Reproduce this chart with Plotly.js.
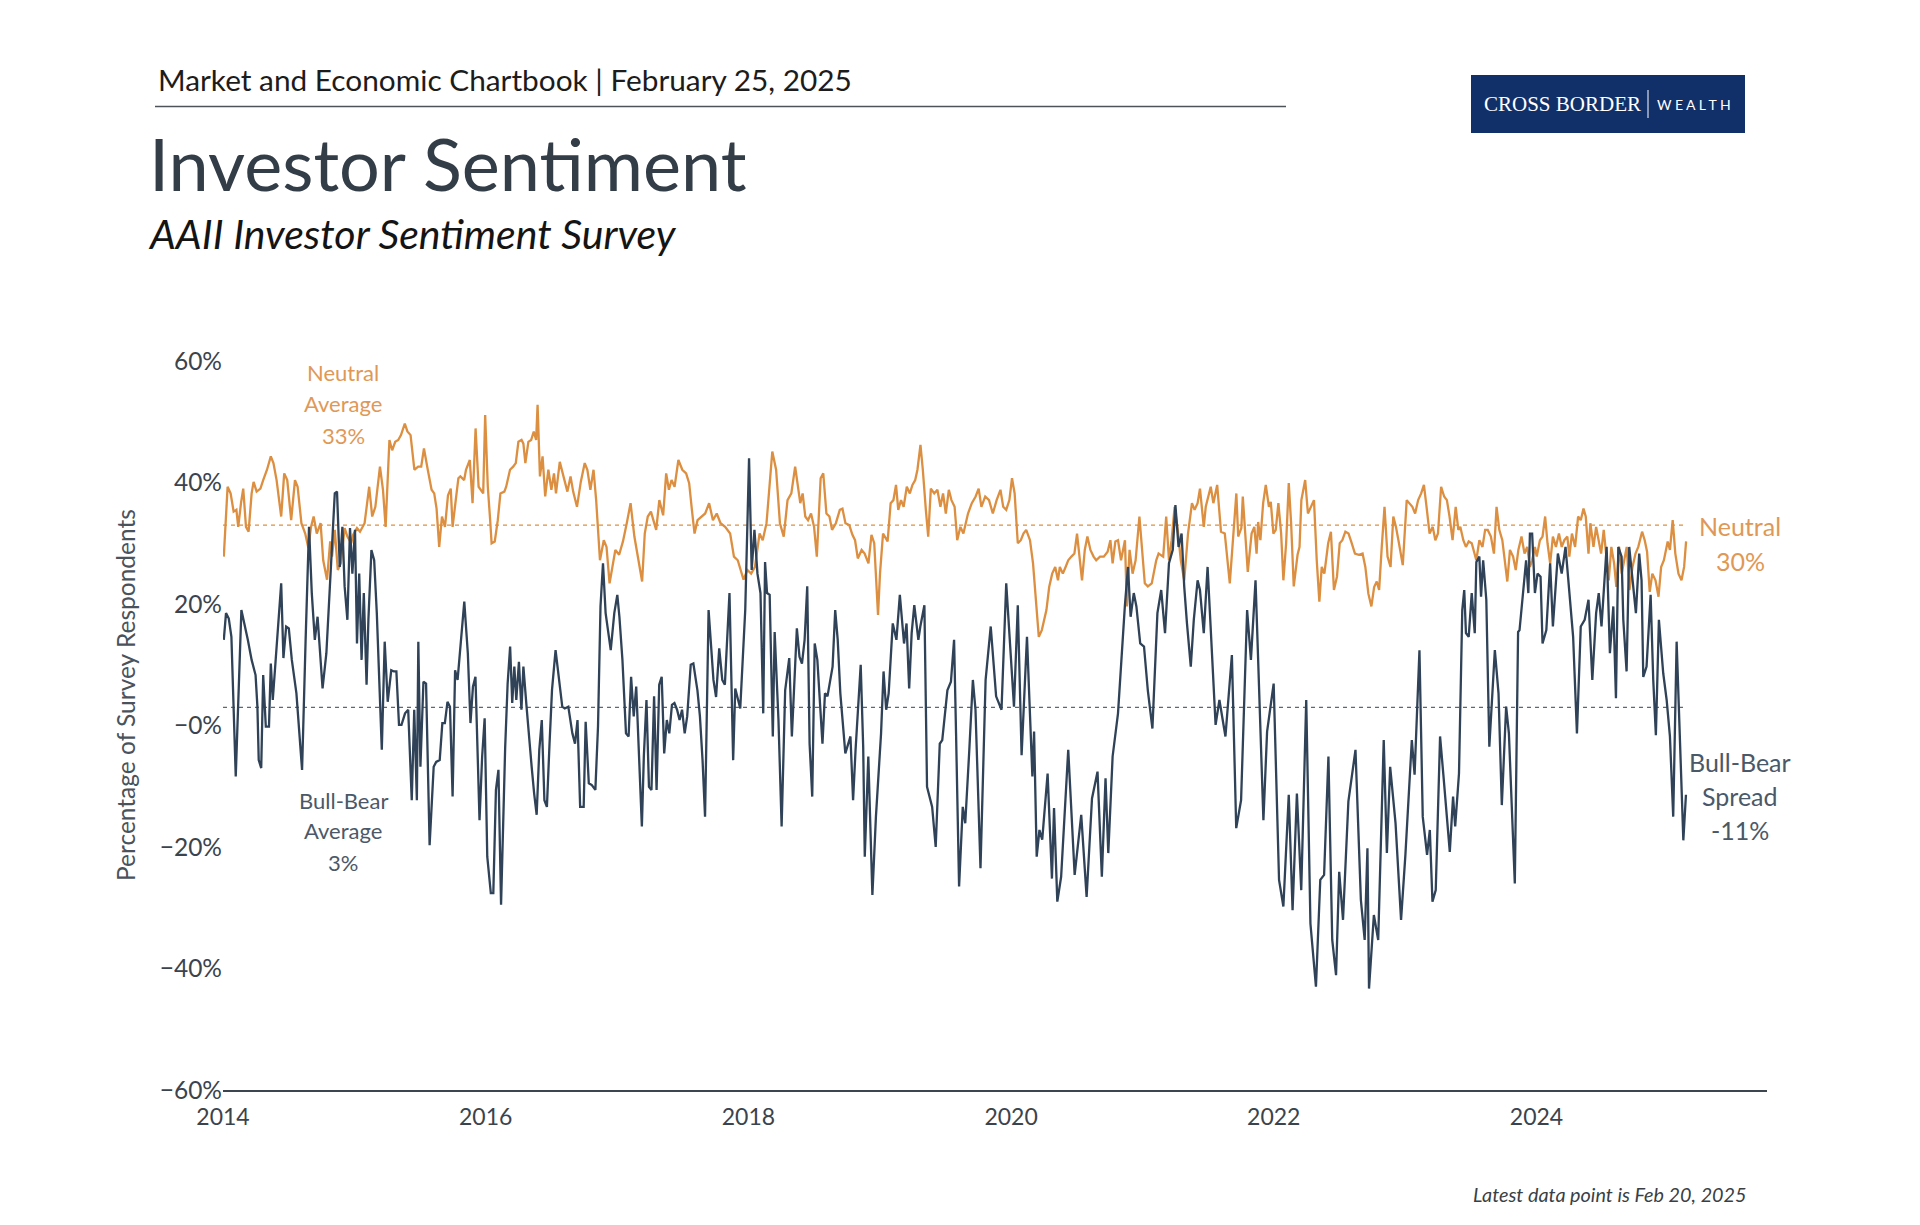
<!DOCTYPE html>
<html>
<head>
<meta charset="utf-8">
<script src="https://cdn.plot.ly/plotly-3.0.1.min.js"></script>
<style>
  html, body { margin: 0; padding: 0; background: #ffffff; }
  #chart { width: 1920px; height: 1225px; }
</style>
</head>
<body>
<div id="chart"></div>
<script>
// ---------------- DATA ----------------
const yearTicks = [2014, 2016, 2018, 2020, 2022, 2024];
const yearLabels = ["2014", "2016", "2018", "2020", "2022", "2024"];
const pctTicks = [60, 40, 20, 0, -20, -40, -60];
const pctLabels = ["60%", "40%", "20%", "\u22120%", "\u221220%", "\u221240%", "\u221260%"];

const neutralAverage = 33;
const spreadAverage = 3;
const latestNeutral = 30;
const latestSpread = -11;
const averageSpan = [2014.0, 2025.14];

// AAII neutral share (%), by decimal year
const neutralYears = [
2014.006,2014.035,2014.058,2014.081,2014.102,2014.116,2014.137,2014.154,2014.175,2014.195,
2014.218,2014.233,2014.256,2014.285,2014.306,2014.335,2014.364,2014.384,2014.408,2014.443,
2014.466,2014.489,2014.519,2014.548,2014.568,2014.597,2014.626,2014.650,2014.670,2014.690,
2014.714,2014.743,2014.763,2014.792,2014.816,2014.830,2014.851,2014.874,2014.897,2014.926,
2014.947,2014.976,2014.991,2015.020,2015.043,2015.078,2015.113,2015.136,2015.160,2015.180,
2015.195,2015.218,2015.238,2015.267,2015.288,2015.311,2015.334,2015.355,2015.384,2015.404,
2015.428,2015.457,2015.486,2015.509,2015.530,2015.559,2015.588,2015.608,2015.626,2015.646,
2015.667,2015.690,2015.713,2015.734,2015.748,2015.772,2015.792,2015.807,2015.836,2015.850,
2015.879,2015.900,2015.923,2015.946,2015.981,2015.996,2016.016,2016.034,2016.045,2016.069,
2016.092,2016.112,2016.142,2016.156,2016.185,2016.209,2016.229,2016.249,2016.273,2016.287,
2016.302,2016.325,2016.346,2016.366,2016.384,2016.395,2016.413,2016.433,2016.453,2016.477,
2016.500,2016.520,2016.535,2016.564,2016.593,2016.622,2016.646,2016.666,2016.695,2016.724,
2016.754,2016.774,2016.797,2016.821,2016.841,2016.870,2016.899,2016.920,2016.943,2016.966,
2016.987,2017.016,2017.045,2017.074,2017.103,2017.132,2017.161,2017.191,2017.211,2017.234,
2017.258,2017.298,2017.322,2017.351,2017.374,2017.395,2017.415,2017.438,2017.467,2017.497,
2017.526,2017.549,2017.570,2017.590,2017.613,2017.642,2017.671,2017.701,2017.730,2017.759,
2017.788,2017.823,2017.861,2017.890,2017.919,2017.963,2017.992,2018.021,2018.050,2018.085,
2018.109,2018.138,2018.182,2018.211,2018.240,2018.269,2018.298,2018.327,2018.356,2018.395,
2018.413,2018.433,2018.454,2018.477,2018.500,2018.521,2018.550,2018.570,2018.594,2018.617,
2018.637,2018.666,2018.696,2018.716,2018.739,2018.768,2018.792,2018.812,2018.833,2018.862,
2018.885,2018.914,2018.937,2018.958,2018.987,2019.002,2019.025,2019.060,2019.083,2019.104,
2019.124,2019.141,2019.162,2019.182,2019.206,2019.229,2019.249,2019.270,2019.287,2019.310,
2019.328,2019.351,2019.369,2019.389,2019.415,2019.439,2019.462,2019.482,2019.503,2019.526,
2019.546,2019.570,2019.590,2019.614,2019.637,2019.672,2019.701,2019.730,2019.753,2019.774,
2019.803,2019.832,2019.861,2019.890,2019.919,2019.940,2019.963,2019.987,2020.007,2020.027,
2020.051,2020.074,2020.094,2020.115,2020.144,2020.167,2020.190,2020.211,2020.234,2020.255,
2020.269,2020.290,2020.313,2020.336,2020.357,2020.371,2020.394,2020.415,2020.435,2020.459,
2020.482,2020.502,2020.523,2020.540,2020.561,2020.581,2020.604,2020.628,2020.648,2020.677,
2020.706,2020.735,2020.756,2020.773,2020.794,2020.814,2020.837,2020.867,2020.881,2020.902,
2020.925,2020.948,2020.977,2020.998,2021.018,2021.041,2021.071,2021.105,2021.123,2021.158,
2021.181,2021.202,2021.222,2021.245,2021.269,2021.292,2021.318,2021.347,2021.377,2021.397,
2021.420,2021.438,2021.467,2021.482,2021.502,2021.520,2021.540,2021.569,2021.598,2021.627,
2021.665,2021.694,2021.715,2021.729,2021.753,2021.764,2021.782,2021.802,2021.831,2021.852,
2021.869,2021.881,2021.898,2021.919,2021.939,2021.963,2021.977,2021.997,2022.015,2022.035,
2022.056,2022.073,2022.094,2022.114,2022.132,2022.152,2022.181,2022.196,2022.210,2022.239,
2022.260,2022.283,2022.306,2022.327,2022.347,2022.365,2022.385,2022.414,2022.435,2022.458,
2022.481,2022.502,2022.522,2022.545,2022.569,2022.589,2022.618,2022.647,2022.676,2022.697,
2022.720,2022.743,2022.764,2022.784,2022.802,2022.822,2022.843,2022.866,2022.889,2022.910,
2022.930,2022.953,2022.982,2023.012,2023.035,2023.055,2023.076,2023.099,2023.122,2023.143,
2023.163,2023.186,2023.210,2023.230,2023.250,2023.274,2023.297,2023.318,2023.338,2023.361,
2023.385,2023.405,2023.420,2023.443,2023.463,2023.484,2023.507,2023.530,2023.542,2023.565,
2023.589,2023.609,2023.629,2023.653,2023.676,2023.696,2023.717,2023.740,2023.763,2023.778,
2023.798,2023.822,2023.842,2023.862,2023.886,2023.909,2023.929,2023.950,2023.967,2023.988,
2024.002,2024.026,2024.046,2024.066,2024.084,2024.104,2024.125,2024.148,2024.171,2024.192,
2024.212,2024.235,2024.250,2024.270,2024.294,2024.317,2024.337,2024.358,2024.375,2024.396,
2024.410,2024.434,2024.454,2024.474,2024.492,2024.512,2024.533,2024.550,2024.570,2024.591,
2024.608,2024.629,2024.649,2024.667,2024.687,2024.708,2024.731,2024.754,2024.775,2024.804,
2024.824,2024.842,2024.862,2024.882,2024.906,2024.929,2024.949,2024.970,2024.999,2025.016,
2025.037,2025.057,2025.081,2025.104,2025.124,2025.139
];
const neutralValues = [
27.8,39.3,38.2,35.2,35.5,32.7,36.6,39.0,32.7,31.9,
38.2,40.1,38.5,39.0,40.4,42.1,44.3,43.2,40.4,34.4,
41.5,40.4,33.8,40.4,39.3,33.3,31.6,29.2,32.7,34.4,
31.6,33.3,27.2,24.0,30.3,27.8,32.2,25.6,26.7,32.5,
31.1,30.0,31.4,32.5,31.9,33.3,39.3,34.4,36.0,39.3,
42.6,38.8,32.7,47.0,45.3,46.7,47.0,47.8,49.7,48.4,
47.8,42.1,42.6,42.6,45.6,42.1,38.8,38.2,35.7,29.4,
34.4,32.7,37.9,39.0,32.7,37.1,40.7,41.0,40.4,42.1,
43.7,36.6,48.9,39.3,38.2,51.1,39.3,33.8,30.0,30.3,
33.8,38.2,38.5,39.3,42.1,42.6,43.2,46.7,47.0,46.4,
43.2,46.7,47.0,48.4,47.0,52.8,41.0,44.3,37.7,42.1,
38.8,41.5,38.2,43.4,41.0,38.5,41.0,38.5,36.0,40.1,
43.2,42.1,38.8,42.1,37.1,27.2,30.5,29.4,23.4,26.7,
28.9,28.1,30.3,33.3,36.6,31.1,27.2,23.7,31.6,34.4,
35.2,32.2,37.1,34.6,41.5,38.8,40.4,39.3,43.7,42.1,
41.5,39.9,35.5,31.6,33.8,34.4,34.9,36.6,33.8,34.9,
33.3,32.7,31.6,27.8,27.2,24.0,25.6,25.0,26.1,31.6,
30.5,33.3,45.1,42.1,33.3,31.1,37.1,38.2,42.6,36.6,
38.2,34.4,33.8,34.9,32.7,27.8,40.7,41.5,34.9,34.4,
32.2,33.3,35.5,35.7,33.3,33.0,31.4,30.5,27.5,28.9,
28.3,26.7,31.4,30.0,18.2,25.0,31.6,30.3,36.6,37.1,
39.6,35.5,37.1,36.0,39.3,38.2,39.6,40.4,42.1,46.2,
42.1,35.5,31.1,39.0,38.2,38.8,36.0,38.2,34.9,38.8,
37.1,36.0,30.5,32.7,31.6,34.9,36.6,37.7,39.0,36.0,
37.7,37.1,34.9,37.1,38.8,36.0,35.5,37.1,40.7,38.2,
30.0,30.5,31.6,32.2,30.5,26.7,20.7,14.6,15.7,17.4,
19.0,22.8,25.0,26.1,23.9,26.1,25.0,26.1,27.2,27.8,
28.3,31.6,27.2,23.9,28.9,31.1,28.9,27.8,27.2,27.8,
27.8,28.6,30.5,26.7,30.3,30.5,27.2,30.5,19.6,28.9,
25.0,27.2,34.4,28.3,23.4,22.9,23.4,27.2,28.3,27.8,
34.4,27.2,30.5,36.0,32.2,27.2,23.9,31.6,36.6,35.5,
36.6,39.0,32.7,36.0,37.7,39.3,36.6,39.6,31.9,31.6,
23.4,32.7,38.2,31.1,32.5,37.7,31.1,25.3,31.6,32.7,
28.3,33.5,30.5,36.6,39.6,36.0,36.8,31.6,32.2,36.6,
31.6,23.9,30.0,39.9,33.3,22.9,28.1,29.4,37.1,40.4,
34.9,36.0,37.1,27.2,20.4,26.1,25.0,30.0,31.9,22.3,
24.5,30.0,30.5,31.9,31.6,30.3,28.3,28.1,28.3,26.1,
21.7,19.6,22.8,23.7,22.3,29.4,36.0,27.8,26.1,34.4,
32.7,30.0,26.4,37.1,36.6,36.0,34.9,37.1,38.2,39.6,
36.0,31.6,32.7,30.5,31.6,39.3,37.7,37.1,34.4,30.5,
36.0,32.2,32.7,30.5,29.4,30.3,30.0,27.8,27.2,30.5,
29.4,32.2,32.2,31.1,28.3,36.0,32.2,30.5,26.1,23.7,
28.9,27.8,25.6,28.9,31.1,28.3,29.4,26.1,27.2,29.4,
27.8,30.5,31.1,34.4,30.0,26.7,31.1,29.4,31.6,29.4,
30.5,31.1,27.8,31.6,29.4,34.4,33.8,35.7,34.4,28.3,
33.3,29.4,32.7,30.5,28.3,32.2,27.2,23.9,29.4,26.7,
22.8,29.4,25.0,27.2,29.4,22.3,26.1,28.3,29.4,31.9,
30.5,28.6,22.0,25.0,23.9,21.2,26.1,27.2,30.3,28.9,
33.8,28.3,25.0,23.9,26.1,30.3
];

// Bull-bear spread (bullish minus bearish, %), by decimal year
const spreadYears = [
2014.006,2014.023,2014.044,2014.064,2014.097,2014.140,2014.189,2014.218,2014.248,2014.262,
2014.272,2014.291,2014.306,2014.326,2014.350,2014.364,2014.379,2014.408,2014.443,2014.460,
2014.481,2014.501,2014.524,2014.559,2014.582,2014.602,2014.629,2014.655,2014.676,2014.699,
2014.720,2014.737,2014.758,2014.787,2014.830,2014.851,2014.868,2014.889,2014.909,2014.926,
2014.947,2014.967,2014.985,2015.005,2015.020,2015.037,2015.055,2015.072,2015.093,2015.107,
2015.130,2015.151,2015.171,2015.195,2015.209,2015.231,2015.254,2015.281,2015.301,2015.320,
2015.340,2015.359,2015.386,2015.410,2015.437,2015.456,2015.476,2015.487,2015.503,2015.526,
2015.546,2015.573,2015.604,2015.623,2015.650,2015.670,2015.689,2015.709,2015.728,2015.748,
2015.767,2015.786,2015.814,2015.837,2015.864,2015.884,2015.903,2015.922,2015.953,2015.973,
2015.992,2016.012,2016.039,2016.058,2016.078,2016.097,2016.117,2016.148,2016.167,2016.186,
2016.202,2016.218,2016.233,2016.253,2016.272,2016.287,2016.311,2016.330,2016.350,2016.369,
2016.388,2016.408,2016.427,2016.447,2016.466,2016.486,2016.505,2016.532,2016.555,2016.583,
2016.602,2016.629,2016.660,2016.680,2016.699,2016.719,2016.746,2016.761,2016.785,2016.808,
2016.835,2016.855,2016.874,2016.893,2016.913,2016.932,2016.952,2016.979,2017.002,2017.018,
2017.041,2017.068,2017.088,2017.107,2017.127,2017.146,2017.165,2017.189,2017.204,2017.224,
2017.243,2017.262,2017.282,2017.301,2017.321,2017.340,2017.359,2017.379,2017.398,2017.418,
2017.437,2017.457,2017.476,2017.495,2017.515,2017.534,2017.561,2017.581,2017.612,2017.631,
2017.651,2017.670,2017.697,2017.734,2017.754,2017.778,2017.801,2017.821,2017.856,2017.884,
2017.900,2017.938,2017.976,2018.005,2018.025,2018.046,2018.069,2018.092,2018.113,2018.127,
2018.142,2018.162,2018.186,2018.200,2018.229,2018.253,2018.280,2018.311,2018.331,2018.350,
2018.369,2018.389,2018.408,2018.428,2018.448,2018.466,2018.486,2018.505,2018.525,2018.564,
2018.583,2018.602,2018.641,2018.661,2018.680,2018.700,2018.719,2018.738,2018.777,2018.797,
2018.816,2018.835,2018.855,2018.874,2018.886,2018.913,2018.944,2018.971,2019.010,2019.029,
2019.049,2019.068,2019.099,2019.127,2019.153,2019.185,2019.204,2019.224,2019.243,2019.263,
2019.294,2019.309,2019.340,2019.360,2019.399,2019.426,2019.457,2019.476,2019.496,2019.515,
2019.542,2019.566,2019.581,2019.604,2019.632,2019.651,2019.682,2019.709,2019.729,2019.767,
2019.806,2019.845,2019.886,2019.927,2019.963,2020.022,2020.051,2020.080,2020.121,2020.162,
2020.175,2020.195,2020.216,2020.237,2020.278,2020.311,2020.327,2020.352,2020.381,2020.435,
2020.484,2020.534,2020.575,2020.616,2020.658,2020.691,2020.719,2020.740,2020.773,2020.814,
2020.866,2020.890,2020.910,2020.934,2020.954,2020.983,2021.012,2021.041,2021.076,2021.114,
2021.143,2021.172,2021.202,2021.231,2021.251,2021.275,2021.298,2021.318,2021.339,2021.368,
2021.391,2021.420,2021.438,2021.467,2021.496,2021.525,2021.557,2021.586,2021.632,2021.681,
2021.714,2021.751,2021.797,2021.826,2021.861,2021.921,2021.949,2021.999,2022.040,2022.073,
2022.114,2022.143,2022.176,2022.209,2022.247,2022.279,2022.321,2022.354,2022.383,2022.416,
2022.445,2022.474,2022.498,2022.527,2022.568,2022.622,2022.663,2022.692,2022.713,2022.725,
2022.762,2022.795,2022.837,2022.861,2022.886,2022.927,2022.969,2023.002,2023.051,2023.072,
2023.109,2023.134,2023.167,2023.188,2023.208,2023.233,2023.266,2023.291,2023.340,2023.365,
2023.381,2023.410,2023.435,2023.450,2023.463,2023.484,2023.507,2023.530,2023.542,2023.565,
2023.578,2023.594,2023.618,2023.641,2023.683,2023.711,2023.736,2023.769,2023.790,2023.835,
2023.860,2023.871,2023.900,2023.921,2023.938,2023.950,2023.967,2023.988,2024.008,2024.031,
2024.046,2024.075,2024.104,2024.125,2024.163,2024.192,2024.221,2024.250,2024.279,2024.308,
2024.337,2024.367,2024.396,2024.425,2024.454,2024.474,2024.495,2024.534,2024.559,2024.585,
2024.605,2024.623,2024.648,2024.661,2024.686,2024.706,2024.724,2024.737,2024.757,2024.782,
2024.800,2024.813,2024.838,2024.869,2024.889,2024.909,2024.932,2024.965,2024.991,2025.016,
2025.041,2025.067,2025.092,2025.118,2025.138
];
const spreadValues = [
14.1,18.5,17.6,14.6,-8.4,19.0,14.1,10.8,8.3,3.1,
-5.7,-7.0,8.3,-0.2,-0.2,10.2,4.2,13.0,23.4,11.1,
16.3,16.0,10.8,5.3,-0.7,-7.3,14.1,32.7,21.8,14.1,
17.9,11.9,6.1,11.9,28.9,38.2,38.5,26.1,32.7,22.9,
17.4,32.5,25.0,32.2,13.5,25.0,10.8,21.8,6.7,17.4,
28.9,27.2,18.5,2.0,-4.0,13.8,3.9,9.1,8.9,8.9,
0.1,0.1,2.0,2.6,-12.3,2.6,-12.3,13.8,-6.8,7.2,
6.9,-19.7,-6.8,-6.0,-5.7,0.4,0.4,3.9,3.1,-11.7,
9.1,7.5,15.2,20.4,11.9,0.4,6.4,8.0,-15.6,-5.1,
1.2,-21.6,-27.6,-27.6,-10.6,-7.3,-29.5,-3.8,6.9,13.0,
3.7,9.7,4.2,10.5,2.6,9.7,3.1,-2.1,-6.8,-11.2,
-14.7,-4.0,0.9,-12.3,-13.4,-3.0,5.9,12.4,8.6,3.1,
2.8,3.1,-1.3,-3.0,0.9,-13.4,-13.4,0.6,-9.5,-9.8,
-10.6,-0.2,19.6,26.7,18.5,15.4,12.4,18.5,21.5,17.9,
10.8,-1.3,-1.8,8.0,1.5,6.4,-5.1,-16.6,-5.1,4.2,
-10.1,-10.6,4.8,-10.6,6.7,8.0,-4.6,0.9,-1.3,3.4,
3.7,2.6,0.9,2.6,-1.3,1.5,10.0,10.2,5.8,1.5,
-5.7,-15.0,19.0,7.5,4.7,12.7,7.5,6.7,21.8,-5.7,
6.1,2.8,19.0,44.0,25.6,32.2,25.0,21.8,2.0,26.9,
21.8,21.5,-1.8,15.4,0.9,-16.6,5.8,11.1,-1.8,8.0,
16.0,11.3,10.2,14.1,22.9,-3.0,-11.7,13.5,10.8,-3.0,
5.3,4.8,9.7,19.0,14.1,5.3,-0.2,-4.6,-1.8,-12.3,
-4.0,3.7,10.0,-3.5,-21.6,-5.1,-27.9,-15.0,-1.3,8.9,
2.6,5.3,16.8,14.1,21.5,13.5,16.8,6.1,15.2,19.8,
14.1,16.3,19.8,-10.1,-13.4,-20.0,-3.0,-2.4,1.5,5.8,
7.2,14.1,-1.3,-26.5,-13.4,-16.1,-4.0,7.5,2.6,-23.5,
7.5,16.3,4.8,2.6,23.4,3.1,19.8,-4.9,14.6,-8.4,
-1.0,-21.6,-17.2,-18.8,-7.9,-25.2,-13.6,-29.0,-24.9,-4.0,
-24.6,-14.7,-28.2,-12.0,-7.6,-24.9,-8.7,-21.0,-5.1,2.0,
19.6,26.1,17.9,21.8,19.6,13.5,13.0,5.8,-0.5,18.5,
22.3,15.2,26.7,28.9,36.3,29.4,31.6,22.9,16.8,9.7,
17.4,23.9,22.3,15.2,26.1,13.5,0.1,4.2,-1.8,11.6,
-16.9,-12.3,19.0,10.8,23.9,-15.6,-1.0,6.9,-25.4,-29.8,
-11.4,-30.4,-11.2,-27.1,4.2,-32.6,-43.0,-25.4,-24.6,-5.1,
-35.3,-41.1,-24.1,-32.0,-12.5,-4.0,-28.7,-35.3,-20.2,-43.3,
-31.2,-35.3,-2.4,-21.0,-6.8,-16.1,-32.0,-21.3,-2.4,-8.1,
12.4,-15.0,-21.3,-17.2,-29.0,-27.1,-1.8,-8.1,-20.8,-11.7,
-16.6,-7.9,19.0,22.3,15.2,14.6,21.8,15.2,26.9,27.8,
21.2,27.2,20.7,-3.5,12.4,5.3,-13.1,3.1,-1.3,-26.0,
15.4,15.7,21.8,27.2,21.8,31.6,31.6,21.8,25.0,24.5,
13.5,15.7,26.7,16.3,28.3,25.0,29.4,21.8,14.6,-1.3,
16.3,17.4,20.7,7.5,18.5,21.8,16.3,29.4,11.9,19.6,
4.5,29.4,27.8,17.4,8.9,29.4,25.6,22.3,18.5,28.3,
23.9,8.0,9.7,21.5,7.5,-1.6,17.4,8.6,4.2,-1.8,
-15.0,13.8,-3.5,-18.9,-11.4
];

// ---------------- STYLE ----------------
const FONT = "Lato, 'Open Sans', 'Noto Sans', sans-serif";
const ORANGE = "#dc8f40";
const ORANGE_TEXT = "#df9856";
const SLATE = "#2f4257";
const SLATE_TEXT = "#4b5868";
const AXIS_TEXT = "#3b434c";

const traces = [
  { x: averageSpan, y: [neutralAverage, neutralAverage], type: "scatter", mode: "lines",
    line: { color: ORANGE, width: 1.3, dash: "4px,4px" }, hoverinfo: "skip" },
  { x: averageSpan, y: [spreadAverage, spreadAverage], type: "scatter", mode: "lines",
    line: { color: "#5d6873", width: 1.3, dash: "4px,4px" }, hoverinfo: "skip" },
  { x: neutralYears, y: neutralValues, type: "scatter", mode: "lines", name: "Neutral",
    line: { color: ORANGE, width: 2.3 } },
  { x: spreadYears, y: spreadValues, type: "scatter", mode: "lines", name: "Bull-Bear Spread",
    line: { color: SLATE, width: 2.3 } }
];

// paper-coordinate helpers for a plot area 223..1767 px (x) and 361..1090 px (y)
const PX = (px) => (px - 223) / 1544;
const PY = (py) => (1090 - py) / 729;

const annotations = [
  { text: "Market and Economic Chartbook | February 25, 2025", x: PX(156), y: PY(80),
    xanchor: "left", yanchor: "middle", font: { family: FONT, size: 29.8, color: "#1c1c1c" } },
  { text: "Investor Sentiment", x: PX(147), y: PY(163),
    xanchor: "left", yanchor: "middle", font: { family: FONT, size: 72, color: "#333d47" } },
  { text: "<i>AAII Investor Sentiment Survey</i>", x: PX(146), y: PY(234),
    xanchor: "left", yanchor: "middle", font: { family: FONT, size: 41, color: "#141414" } },
  { text: "CROSS BORDER", x: PX(1562), y: PY(104),
    xanchor: "center", yanchor: "middle", font: { family: "'Liberation Serif', serif", size: 21, color: "#ffffff" } },
  { text: "W E A L T H", x: PX(1694), y: PY(104),
    xanchor: "center", yanchor: "middle", font: { family: FONT, size: 14, color: "#ffffff" } },
  { text: "Percentage of Survey Respondents", x: PX(125), y: PY(695), textangle: -90,
    xanchor: "center", yanchor: "middle", font: { family: FONT, size: 24.5, color: "#4a525b" } },
  { text: "<i>Latest data point is Feb 20, 2025</i>", x: PX(1749), y: PY(1194),
    xanchor: "right", yanchor: "middle", font: { family: FONT, size: 19.8, color: "#3a3f45" } }
];

// multi-line labels, one annotation per line so line spacing matches the reference
function addLines(lines, cx, ys, size, color) {
  lines.forEach((t, i) => annotations.push({
    text: t, x: PX(cx), y: PY(ys[i]), xanchor: "center", yanchor: "middle",
    font: { family: FONT, size: size, color: color }
  }));
}
addLines(["Neutral", "Average", neutralAverage + "%"], 343, [372, 403, 435], 22, ORANGE_TEXT);
addLines(["Bull-Bear", "Average", spreadAverage + "%"], 343, [800, 830, 862], 22, SLATE_TEXT);
addLines(["Neutral", latestNeutral + "%"], 1740, [526, 561], 25, ORANGE_TEXT);
addLines(["Bull-Bear", "Spread", latestSpread + "%"], 1740, [762, 796, 830], 25, SLATE_TEXT);

annotations.forEach(a => { a.xref = "paper"; a.yref = "paper"; a.showarrow = false; });

const shapes = [
  { type: "line", xref: "paper", yref: "paper", x0: PX(155), x1: PX(1286), y0: PY(106.5), y1: PY(106.5),
    line: { color: "#4d5359", width: 1.5 } },
  { type: "rect", xref: "paper", yref: "paper", x0: PX(1471), x1: PX(1745), y0: PY(133), y1: PY(75),
    fillcolor: "#11306a", line: { width: 0 } },
  { type: "line", xref: "paper", yref: "paper", x0: PX(1648), x1: PX(1648), y0: PY(118), y1: PY(90),
    line: { color: "#ffffff", width: 1 } }
];

const layout = {
  width: 1920, height: 1225,
  margin: { l: 223, r: 153, t: 361, b: 135, pad: 0 },
  paper_bgcolor: "#ffffff", plot_bgcolor: "#ffffff",
  showlegend: false, hovermode: false,
  font: { family: FONT },
  xaxis: {
    range: [2014, 2025.755], tickmode: "array", tickvals: yearTicks, ticktext: yearLabels,
    showgrid: false, zeroline: false, showline: true, linecolor: "#3d454e", linewidth: 1.5,
    ticks: "", ticklabelstandoff: 6, tickfont: { family: FONT, size: 23, color: AXIS_TEXT }, fixedrange: true
  },
  yaxis: {
    range: [-60, 60], tickmode: "array", tickvals: pctTicks, ticktext: pctLabels,
    showgrid: false, zeroline: false, showline: false,
    ticks: "", tickfont: { family: FONT, size: 24.5, color: AXIS_TEXT }, fixedrange: true
  },
  annotations: annotations,
  shapes: shapes
};

Plotly.newPlot("chart", traces, layout, { staticPlot: true, displayModeBar: false });
</script>
</body>
</html>
